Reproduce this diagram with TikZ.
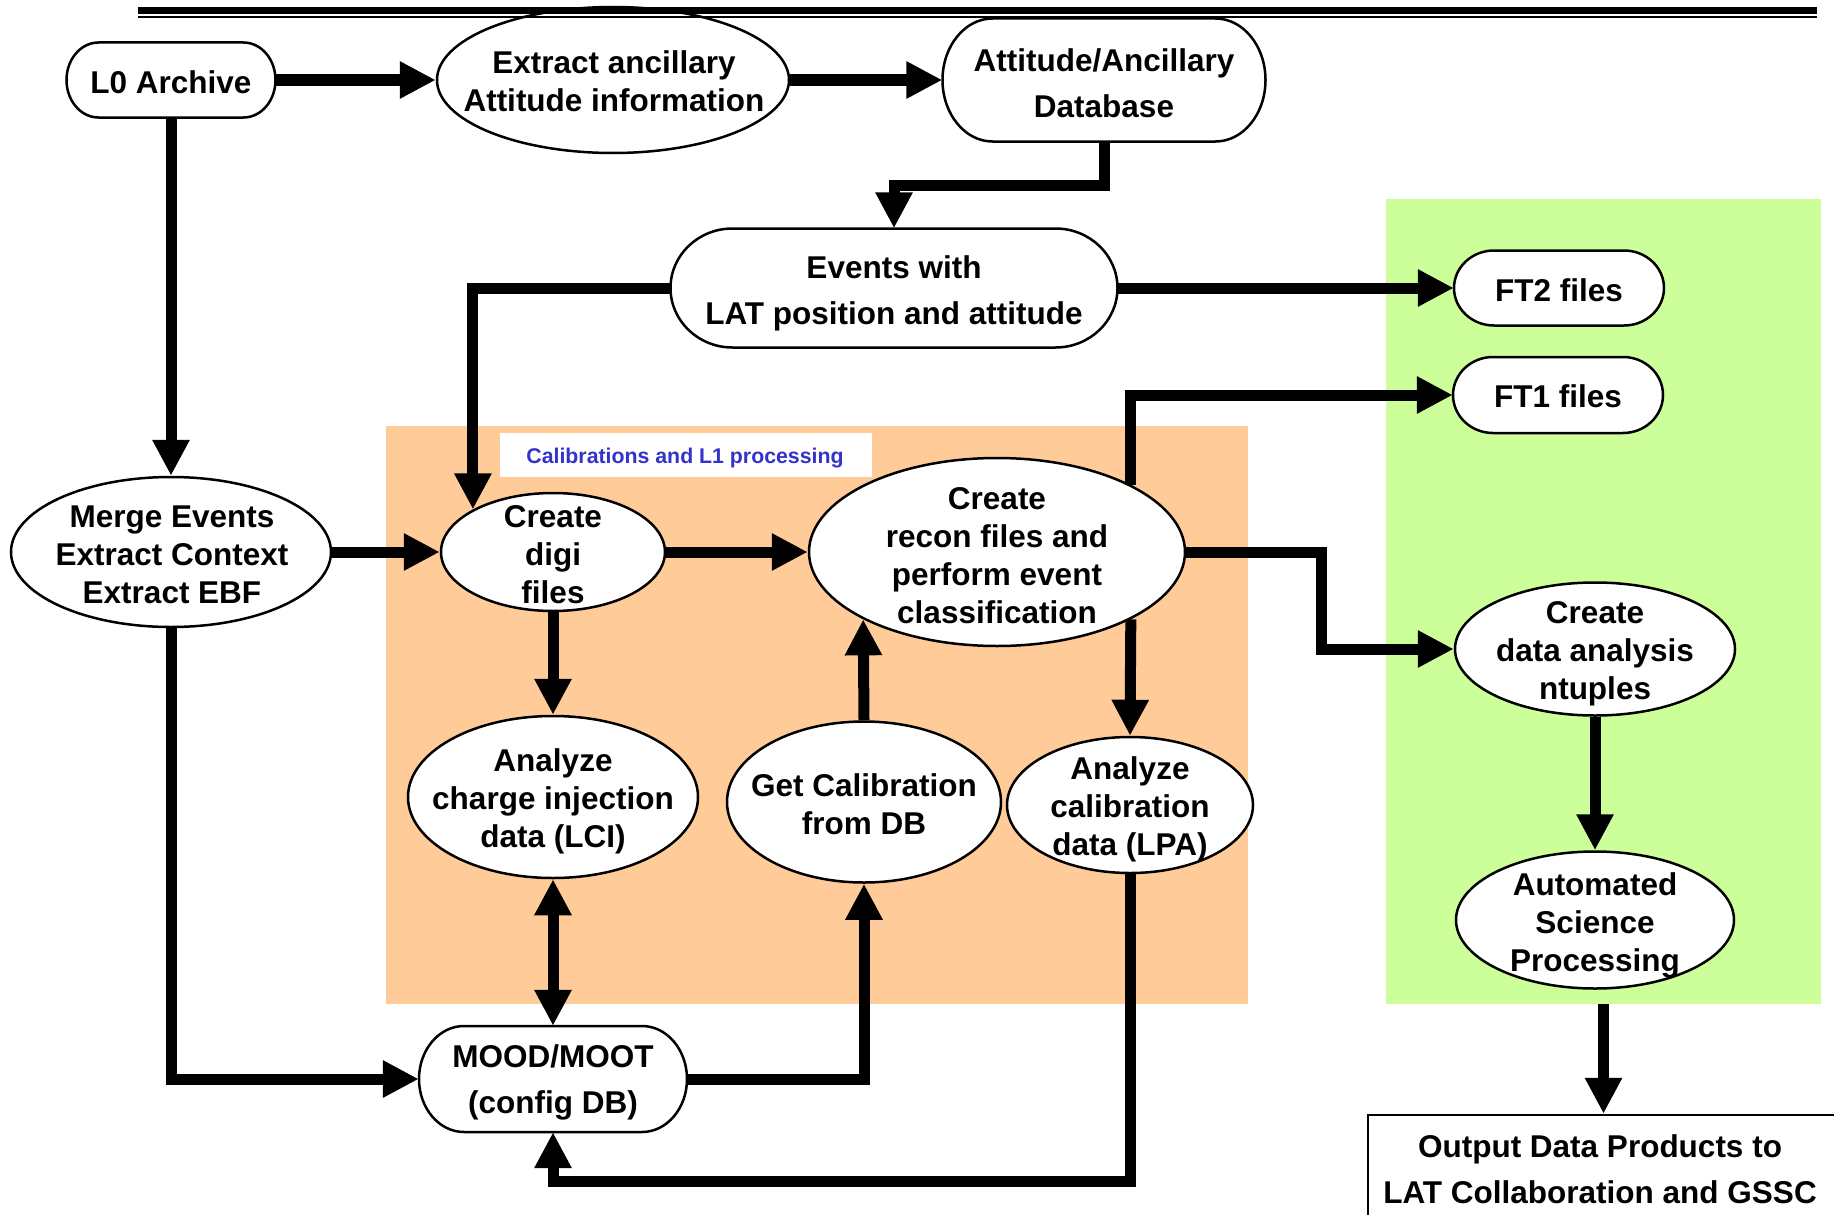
\documentclass[tikz,border=0pt]{standalone}
\usepackage{fontspec}
\setmainfont{Liberation Sans}
\usetikzlibrary{shapes.geometric,arrows.meta}
\definecolor{orangebg}{RGB}{255,204,153}
\definecolor{greenbg}{RGB}{204,255,153}
\definecolor{labelblue}{RGB}{51,51,204}
% name, cx, cy, width, height, inset, text, text drop
\newcommand\termbox[8]{%
  \begin{scope}[shift={(#2,-#3)}]
    \draw[bord, fill=white] ({-#4/2+#6},{#5/2}) -- ({#4/2-#6},{#5/2})
      arc[start angle=90, end angle=-90, x radius=#6, y radius=#5/2]
      -- ({-#4/2+#6},{-#5/2})
      arc[start angle=270, end angle=90, x radius=#6, y radius=#5/2] -- cycle;
  \end{scope}
  \node[inner sep=0pt, minimum width=#4pt, minimum height=#5pt] (#1) at (#2,-#3) {};
  \node[btxt] (#1t) at (#2,{-#3-#8}) {#7};
}
\tikzset{
  bord/.style={line width=2.5pt},
  ell/.style={ellipse, draw, bord, fill=white, inner sep=0pt},
  txt/.style={font=\bfseries\fontsize{31.5}{38}\selectfont, align=center, inner sep=0pt},
  btxt/.style={font=\bfseries\fontsize{31.5}{46}\selectfont, align=center, inner sep=0pt},
  conn/.style={line width=11pt, ->},
  dconn/.style={line width=11pt, <->},
}
\begin{document}
\begin{tikzpicture}[x=1pt, y=1pt, >={Triangle[length=36pt,width=35pt]}]
\useasboundingbox (0,0) rectangle (1834,-1215);
\clip (0,0) rectangle (1834,-1215);
\fill[white] (0,0) rectangle (1834,-1215);

% background regions
\node[fill=orangebg, minimum width=862pt, minimum height=578pt, inner sep=0pt, outer sep=0pt] (orange) at (817,-715) {};
\node[fill=greenbg, minimum width=435pt, minimum height=805pt, inner sep=0pt, outer sep=0pt] (green) at (1603.5,-601.5) {};
\node[fill=white, minimum width=372pt, minimum height=44pt, inner sep=0pt, outer sep=0pt] (label) at (686,-455) {};
\node[text=labelblue, inner sep=0pt, font=\bfseries\fontsize{21.3}{25}\selectfont] (labelt) at (685,-458) {Calibrations and L1 processing};

% terminator boxes
\termbox{l0}{171}{80}{209}{75}{32}{L0 Archive}{2}
\termbox{db}{1104}{80}{323}{123}{50}{Attitude/Ancillary\\Database}{3}
\termbox{events}{894}{288}{447}{119}{62}{Events with\\LAT position and attitude}{5}
\termbox{ft2}{1559}{288}{210}{75}{40}{FT2 files}{2}
\termbox{ft1}{1558}{395}{210}{76}{40}{FT1 files}{1}
\termbox{mood}{553}{1079}{268}{106}{45}{MOOD/MOOT\\(config DB)}{3}

% ellipses
\node[ell, minimum width=352pt, minimum height=146pt] (extract) at (613,-80) {};
\node[txt] (extractt) at (614,-81) {Extract ancillary\\Attitude information};
\node[ell, minimum width=320pt, minimum height=150pt] (merge) at (171,-552) {};
\node[txt] (merget) at (172,-555) {Merge Events\\Extract Context\\Extract EBF};
\node[ell, minimum width=224pt, minimum height=118pt] (digi) at (553,-552) {};
\node[txt] (digit) at (553,-555) {Create\\digi\\files};
\node[ell, minimum width=376pt, minimum height=188pt] (recon) at (997,-552) {};
\node[txt] (recont) at (997,-556) {Create\\recon files and\\perform event\\classification};
\node[ell, minimum width=280pt, minimum height=133pt] (ntup) at (1595,-649) {};
\node[txt] (ntupt) at (1595,-654) {Create\\data analysis\\ntuples};
\node[ell, minimum width=290pt, minimum height=162pt] (lci) at (553,-797) {};
\node[txt] (lcit) at (553,-801) {Analyze\\charge injection\\data (LCI)};
\node[ell, minimum width=274pt, minimum height=161pt] (getcal) at (864,-802) {};
\node[txt] (getcalt) at (864,-804) {Get Calibration\\from DB};
\node[ell, minimum width=246pt, minimum height=136pt] (lpa) at (1130,-805) {};
\node[txt] (lpat) at (1130,-809) {Analyze\\calibration\\data (LPA)};
\node[ell, minimum width=278pt, minimum height=137pt] (auto) at (1595,-920) {};
\node[txt] (autot) at (1595,-925) {Automated\\Science\\Processing};

% output box
\node[draw, bord, fill=white, minimum width=471pt, minimum height=125pt, inner sep=0pt] (output) at (1603.5,-1177.5) {};
\node[btxt] (outputt) at (1600,-1169) {Output Data Products to\\LAT Collaboration and GSSC};

% connectors
\draw[conn] (l0.east) -- (extract.west);
\draw[conn] (extract.east) -- (db.west);
\draw[conn] (db.south) -- ++(0,-44) -| (events.north);
\draw[conn] (events.east) -- (ft2.west);
\draw[conn] (events.west) -| (digi.north west);
\draw[conn] (l0.south) -- (merge.north);
\draw[conn] (merge.east) -- (digi.west);
\draw[conn] (digi.east) -- (recon.west);
\draw[conn] (digi.south) -- (lci.north);
\draw[conn] (getcal.north) -- (recon.south west);
\draw[conn] (recon.north east) |- (ft1.west);
\draw[conn] (recon.south east) -- (lpa.north);
\draw[conn] (recon.east) -- ++(135,0) |- (ntup.west);
\draw[dconn] (lci.south) -- (mood.north);
\draw[conn] (merge.south) |- (mood.west);
\draw[conn] (mood.east) -| (getcal.south);
\draw[conn] (lpa.south) -- ++(0,-307) -| (mood.south);
\draw[conn] (ntup.south) -- (auto.north);
\draw[conn] (green.south) -- (output.north);

% top rule
\fill (138,-7) rectangle (1817,-14.5);
\fill (138,-16) rectangle (1817,-18.5);
\end{tikzpicture}
\end{document}
